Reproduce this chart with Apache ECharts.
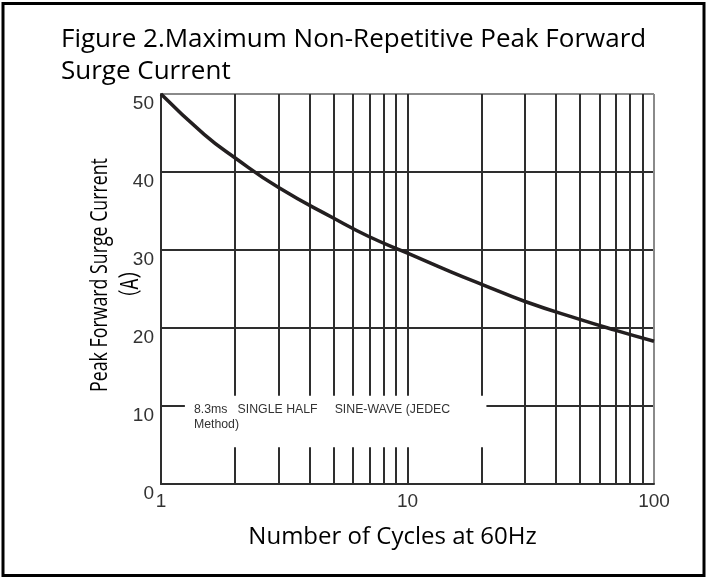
<!DOCTYPE html>
<html>
<head>
<meta charset="utf-8">
<title>Figure 2</title>
<script src="https://cdn.jsdelivr.net/npm/echarts@6/dist/echarts.min.js"></script>
<style>
  html, body { margin: 0; padding: 0; background: #fff; }
  #chart { width: 712px; height: 577px; }
</style>
</head>
<body>
<div id="chart"></div>
<script>
// values
const cycles = [1, 1.5, 2, 3, 5, 7, 10, 15, 20, 30, 50, 70, 100]
const surgeCurrent = [50, 44.8, 41.8, 38.0, 34.1, 31.7, 29.6, 27.2, 25.6, 23.4, 21.1, 19.7, 18.3]
const minorCycles = [2, 3, 4, 5, 6, 7, 8, 9, 20, 30, 40, 50, 60, 70, 80, 90]
const noteLines = ['8.3ms   SINGLE HALF     SINE-WAVE (JEDEC', 'Method)']
const yNameLines = ['Peak Forward Surge Current', '（A）']
// white box behind the note, in data units (x cycles, y amps)
const noteBoxX = [1.25, 20.9]
const noteBoxY = [4.7, 11.3]

const gridColor = '#2e2e2e'
const sansFont = "'Open Sans', 'Noto Sans CJK SC', sans-serif"
const cjkFont = "'Noto Sans CJK SC', 'Open Sans', sans-serif"
const numFont = "'Liberation Sans', Arial, sans-serif"

const chart = echarts.init(document.getElementById('chart'), null, { renderer: 'canvas' })

const option = {
  animation: false,
  backgroundColor: '#fff',
  title: {
    text: 'Figure 2.Maximum Non-Repetitive Peak Forward\nSurge Current',
    left: 56,
    top: 19,
    textStyle: {
      fontFamily: sansFont,
      fontSize: 26,
      fontWeight: 'normal',
      color: '#000',
      lineHeight: 32,
    },
  },
  grid: {
    left: 161,
    right: 58,
    top: 94,
    bottom: 93,
    containLabel: false,
  },
  xAxis: {
    type: 'log',
    logBase: 10,
    min: 1,
    max: 100,
    name: 'Number of Cycles at 60Hz',
    nameLocation: 'middle',
    nameGap: 41,
    nameTextStyle: {
      fontFamily: sansFont,
      fontSize: 24,
      color: '#000',
      padding: [0, 30, 0, 0],
    },
    axisLine: { show: true, lineStyle: { color: gridColor, width: 2 } },
    axisTick: { show: false },
    axisLabel: { fontFamily: numFont, fontSize: 19, color: '#333', margin: 8 },
    splitLine: {
      show: true,
      lineStyle: { color: [gridColor, gridColor, '#8a8a8a'], width: 2 },
    },
  },
  yAxis: {
    type: 'value',
    min: 0,
    max: 50,
    interval: 10,
    axisLine: { show: true, lineStyle: { color: gridColor, width: 2 } },
    axisTick: { show: false },
    axisLabel: {
      fontFamily: numFont,
      fontSize: 19,
      color: '#333',
      margin: 7,
      verticalAlign: 'top',
    },
    splitLine: {
      show: true,
      lineStyle: {
        color: [gridColor, gridColor, gridColor, gridColor, gridColor, '#8a8a8a'],
        width: 2,
      },
    },
  },
  series: [
    {
      // vertical grid lines at 2..9 and 20..90
      name: 'minor grid',
      type: 'line',
      data: [],
      silent: true,
      z: 1,
      markLine: {
        silent: true,
        symbol: ['none', 'none'],
        label: { show: false },
        lineStyle: { color: gridColor, width: 2, type: 'solid' },
        emphasis: { disabled: true },
        data: minorCycles.map((v) => ({ xAxis: v })),
      },
    },
    {
      name: 'Peak Forward Surge Current',
      type: 'line',
      z: 20,
      smooth: true,
      showSymbol: false,
      lineStyle: { color: '#231f20', width: 3.5 },
      data: cycles.map((c, i) => [c, surgeCurrent[i]]),
    },
  ],
}

chart.setOption(option)

// note box, y axis title and outer frame, placed after the axes exist
const p0 = chart.convertToPixel({ gridIndex: 0 }, [noteBoxX[0], noteBoxY[1]])
const p1 = chart.convertToPixel({ gridIndex: 0 }, [noteBoxX[1], noteBoxY[0]])

// the y title in the original is squeezed along its length
const yNameText = (text, x, y, family) => ({
  type: 'text',
  z: 12,
  silent: true,
  x: x,
  y: y,
  rotation: Math.PI / 2,
  scaleX: 0.74,
  style: {
    text: text,
    font: '24px ' + family,
    fill: '#000',
    align: 'center',
    verticalAlign: 'middle',
  },
})

chart.setOption({
  graphic: [
    {
      type: 'rect',
      z: 10,
      silent: true,
      shape: { x: p0[0], y: p0[1], width: p1[0] - p0[0], height: p1[1] - p0[1] },
      style: { fill: '#fff' },
    },
    {
      type: 'text',
      z: 11,
      silent: true,
      x: p0[0] + 9,
      y: p0[1] + 6,
      style: {
        text: noteLines.join('\n'),
        font: '12.3px ' + numFont,
        fill: '#333',
        lineHeight: 15,
      },
    },
    yNameText(yNameLines[0], 100, 275, sansFont),
    yNameText(yNameLines[1], 129, 284, cjkFont),
    {
      type: 'rect',
      z: 30,
      silent: true,
      shape: { x: 3, y: 3.5, width: 701, height: 572 },
      style: { fill: 'none', stroke: '#000', lineWidth: 3 },
    },
  ],
})
</script>
</body>
</html>
